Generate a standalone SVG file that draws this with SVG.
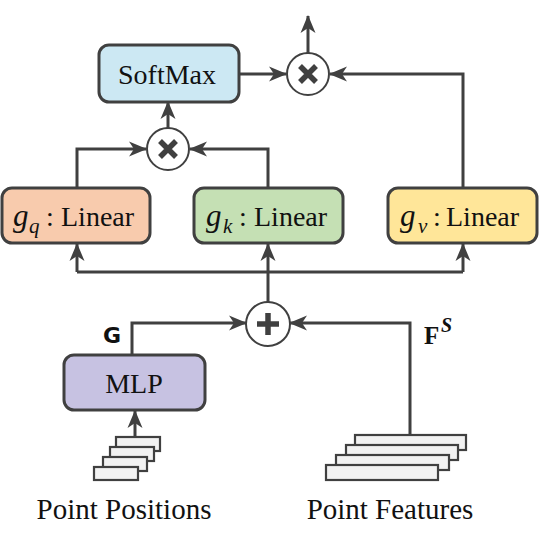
<svg xmlns="http://www.w3.org/2000/svg" width="540" height="542" viewBox="0 0 540 542">
<defs>
<style>
.box{stroke:#404040;stroke-width:3}
.lbl{font-family:"Liberation Serif","Times New Roman",serif;font-size:28px;fill:#111}
.it{font-style:italic;font-size:31px}
.sub{font-style:italic;font-size:21px}
.ln{fill:none;stroke:#404040;stroke-width:3}
.op{fill:#fff;stroke:#404040;stroke-width:2}
.sym{stroke:#404040;stroke-width:5.5;stroke-linecap:butt}
.stk{fill:#f2f2f2;stroke:#404040;stroke-width:2.2}
</style>
<marker id="ah" markerWidth="18" markerHeight="16" viewBox="0 0 18 16" refX="17" refY="8" orient="auto" markerUnits="userSpaceOnUse">
<path d="M0,0.5 L18,8 L0,15.5 L5,8 Z" fill="#404040"/>
</marker>
</defs>

<g id="connectors">
<path class="ln" d="M308,53 V16" marker-end="url(#ah)"/>
<path class="ln" d="M239,74 H286" marker-end="url(#ah)"/>
<path class="ln" d="M463,188 V74 H330" marker-end="url(#ah)"/>
<path class="ln" d="M168,128 V102" marker-end="url(#ah)"/>
<path class="ln" d="M77,188 V149 H146" marker-end="url(#ah)"/>
<path class="ln" d="M268,188 V149 H190" marker-end="url(#ah)"/>
<path class="ln" d="M77,272 H463"/>
<path class="ln" d="M77,272 V244" marker-end="url(#ah)"/>
<path class="ln" d="M268,302 V244" marker-end="url(#ah)"/>
<path class="ln" d="M463,272 V244" marker-end="url(#ah)"/>
<path class="ln" d="M132,355 V323 H246" marker-end="url(#ah)"/>
<path class="ln" d="M410,435 V323 H290" marker-end="url(#ah)"/>
<path class="ln" d="M135,437 V411" marker-end="url(#ah)"/>
</g>

<g id="softmax">
<rect class="box" x="99" y="45" width="140" height="57" rx="10" fill="#cce8f3"/>
<text class="lbl" x="167" y="84" text-anchor="middle">SoftMax</text>
</g>

<g id="mul-top">
<circle class="op" cx="308" cy="74" r="21"/>
<path class="sym" d="M300,66 L316,82 M316,66 L300,82"/>
</g>

<g id="mul-low">
<circle class="op" cx="168" cy="149" r="21"/>
<path class="sym" d="M160,141 L176,157 M176,141 L160,157"/>
</g>

<g id="gq">
<rect class="box" x="2" y="188" width="148" height="55" rx="10" fill="#f8cbad"/>
<text class="lbl" y="226"><tspan class="it" x="13">g</tspan><tspan class="sub" x="29" y="233">q</tspan><tspan x="46" y="226">:</tspan><tspan x="61">Linear</tspan></text>
</g>

<g id="gk">
<rect class="box" x="194" y="188" width="149" height="55" rx="10" fill="#c5e0b4"/>
<text class="lbl" y="226"><tspan class="it" x="206">g</tspan><tspan class="sub" x="223" y="233">k</tspan><tspan x="239" y="226">:</tspan><tspan x="254">Linear</tspan></text>
</g>

<g id="gv">
<rect class="box" x="388" y="188" width="149" height="55" rx="10" fill="#ffe699"/>
<text class="lbl" y="226"><tspan class="it" x="400">g</tspan><tspan class="sub" x="418" y="233">v</tspan><tspan x="433" y="226">:</tspan><tspan x="446">Linear</tspan></text>
</g>

<g id="add">
<circle class="op" cx="268" cy="324" r="22"/>
<path class="sym" d="M268,313 V335 M257,324 H279"/>
</g>

<g id="mlp">
<rect class="box" x="64" y="355" width="141" height="55" rx="10" fill="#c7c2e2"/>
<text class="lbl" x="134" y="393" text-anchor="middle">MLP</text>
</g>

<g id="label-G">
<text x="103" y="343" font-family="'DejaVu Sans',sans-serif" font-weight="bold" font-size="22" fill="#111">G</text>
</g>

<g id="label-FS">
<text x="424" y="344" font-family="'Liberation Serif',serif" font-weight="bold" font-size="25" fill="#111">F</text>
<text x="441" y="332" font-family="'Liberation Serif',serif" font-style="italic" font-weight="bold" font-size="20" fill="#111">S</text>
</g>

<g id="point-positions">
<rect class="stk" x="116" y="437" width="44" height="14"/>
<rect class="stk" x="110" y="447" width="44" height="14"/>
<rect class="stk" x="103" y="457" width="44" height="14"/>
<rect class="stk" x="94" y="467" width="44" height="13"/>
<text class="lbl" x="124" y="519" text-anchor="middle" style="font-size:29px">Point Positions</text>
</g>

<g id="point-features">
<rect class="stk" x="355" y="435" width="111" height="15"/>
<rect class="stk" x="346" y="445" width="112" height="15"/>
<rect class="stk" x="336" y="455" width="113" height="15"/>
<rect class="stk" x="326" y="465" width="112" height="15"/>
<text class="lbl" x="390" y="519" text-anchor="middle" style="font-size:29px">Point Features</text>
</g>
</svg>
